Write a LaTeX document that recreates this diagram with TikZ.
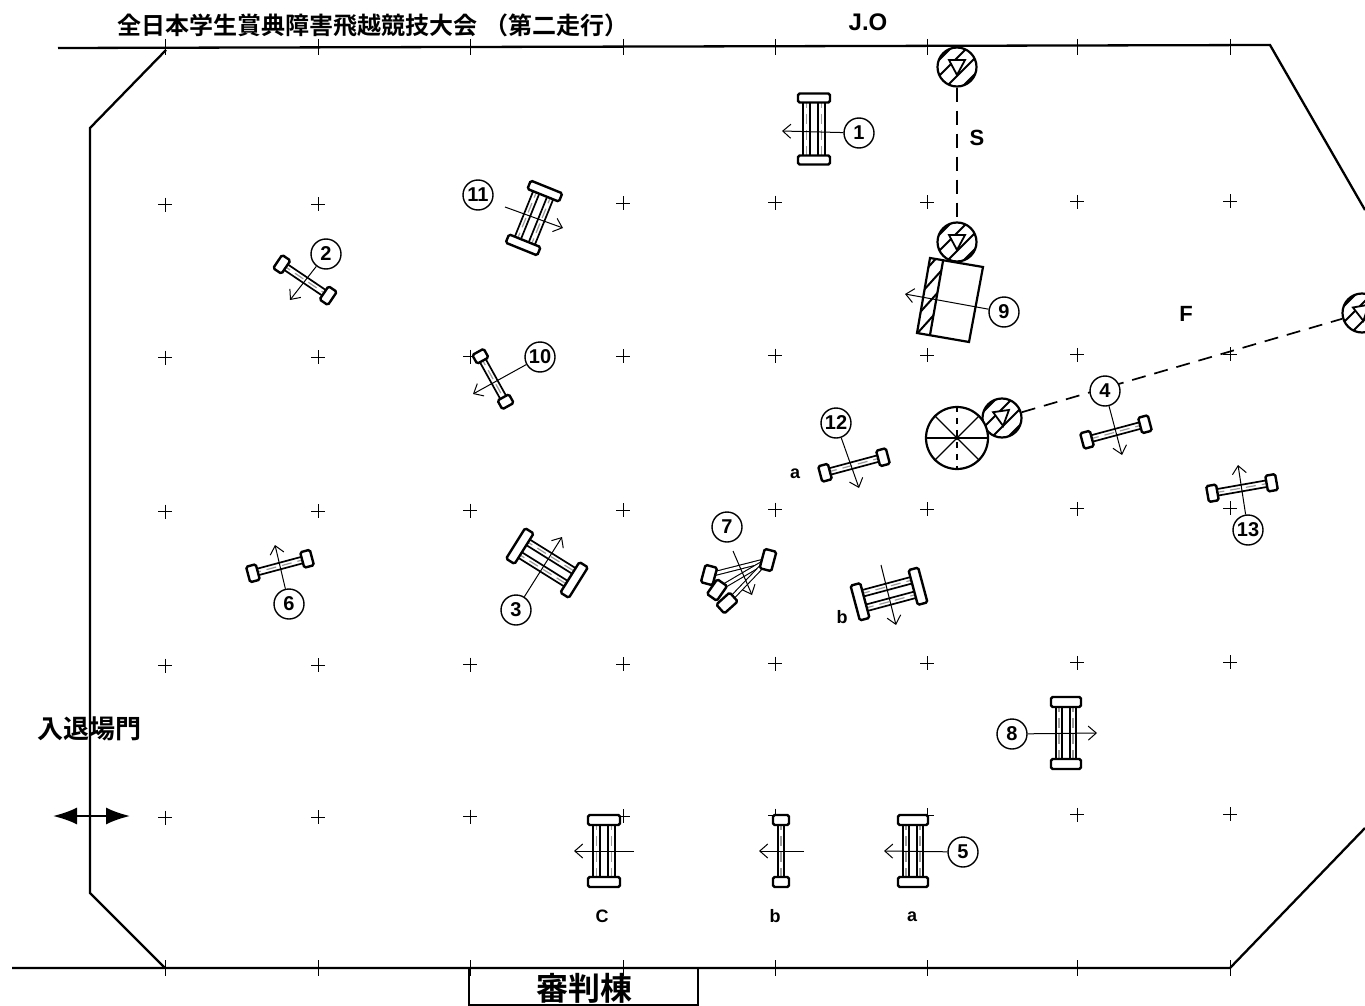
\documentclass[tikz,border=0pt]{standalone}
\usepackage{fontspec}
\setmainfont{Liberation Sans}
\newfontfamily\cjk{Noto Sans CJK JP}[BoldFont={* Bold}]
\usetikzlibrary{arrows.meta}

% x y angle halflength halfwidth halfthick rails
\newcommand{\jump}[7]{
	\begin{scope}[shift={(#1,#2)},rotate=#3]
		\foreach \s in {#7} {
			\draw[rail] (\s-3.3,-#4) rectangle (\s+3.3,#4);
			\draw[railmid] (\s,-#4) -- (\s,#4);
		}
		\draw[block] (-#5,-#4-#6) rectangle (#5,-#4+#6);
		\draw[block] (-#5,#4-#6) rectangle (#5,#4+#6);
	\end{scope}
}
% name x y angle of triangle
\newcommand{\flag}[4]{
	\node[flagring] (#1) at (#2,#3) {};
	\begin{scope}
		\clip (#2,#3) circle (19.5);
		\foreach \d in {-12.5,-4.5,4.5,12.5}
			\draw[hatch] (#2-25+\d,#3+25+\d) -- (#2+25+\d,#3-25+\d);
	\end{scope}
	\begin{scope}[shift={(#2,#3)},rotate=#4]
		\draw[flagtri] (-8,-7) -- (8,-7) -- (0,8) -- cycle;
	\end{scope}
}

\begin{document}
\begin{tikzpicture}[x=0.5pt,y=-0.5pt]
	\tikzstyle{rail} = [draw, line width=0.85pt, fill=white]
	\tikzstyle{railmid} = [draw, line width=0.6pt, dash pattern=on 5 off 3, gray!80]
	\tikzstyle{block} = [draw, line width=1.2pt, fill=white, rounded corners=0.8pt]
	\tikzstyle{num} = [draw, circle, line width=0.7pt, fill=white, minimum size=15pt, inner sep=0, font=\fontsize{10}{10}\selectfont\bfseries]
	\tikzstyle{pull} = [draw, line width=0.5pt, -{Straight Barb[length=4pt,width=7pt]}]
	\tikzstyle{label} = [inner sep=0, font=\fontsize{9}{9}\selectfont\bfseries]
	\tikzstyle{fence} = [draw, line width=1.15pt]
	\tikzstyle{tick} = [draw, line width=0.45pt]
	\tikzstyle{course} = [draw, line width=0.85pt, dash pattern=on 7pt off 4.5pt]
	\tikzstyle{flagring} = [draw, circle, line width=1.1pt, minimum size=19.5pt, inner sep=0, fill=white]
	\tikzstyle{hatch} = [draw, line width=1pt]
	\tikzstyle{flagtri} = [draw, line width=0.9pt, fill=white]
	\tikzstyle{fan} = [draw, double, line width=0.55pt, double distance=1.4pt]
	\tikzstyle{heading} = [inner sep=0, font=\cjk\fontsize{12}{12}\selectfont\bfseries]

	\useasboundingbox (0,0) rectangle (1365,1006);
	\clip (0,0) rectangle (1365,1006);

	% grid
	\foreach \row in {356,510,664,816} {
		\foreach \col in {165,318,470,623,775,927,1077,1230} {
			\draw[tick] (\col-7,\row+2-\col*0.003) -- (\col+7,\row+2-\col*0.003);
			\draw[tick] (\col,\row+2-\col*0.003-7) -- (\col,\row+2-\col*0.003+7);
		}
	}
	\foreach \col in {165,318,623,775,927,1077,1230} {
		\draw[tick] (\col-7,205-\col*0.003) -- (\col+7,205-\col*0.003);
		\draw[tick] (\col,205-\col*0.003-7) -- (\col,205-\col*0.003+7);
	}
	\foreach \col in {165,318,470,623,775,927,1077,1230} {
		\draw[tick] (\col,39) -- (\col,55);
		\draw[tick] (\col,960) -- (\col,976);
	}

	% ring
	\draw[fence] (58,48) -- (1270,45) -- (1365,210);
	\draw[fence] (166,50) -- (90,128) -- (90,893) -- (165,968);
	\draw[fence] (12,968) -- (1230,968) -- (1365,828);
	\node[draw, line width=1pt, minimum width=114.5pt, minimum height=18.5pt, inner sep=0] (judge) at (583.5,986.5) {};
	\node[heading, font=\cjk\fontsize{16}{16}\selectfont\bfseries] (judgetext) at (584,988) {審判棟};

	\node[heading, anchor=west] (title) at (117,25) {全日本学生賞典障害飛越競技大会\hspace{3.5pt}（第二走行）};
	\node[heading, font=\fontsize{12}{12}\selectfont\bfseries] (jo) at (868,22) {J.O};
	\node[heading, font=\cjk\fontsize{13}{13}\selectfont\bfseries] (gate) at (89,729) {入退場門};
	\coordinate (gatel) at (53,816);
	\coordinate (gater) at (130,816);
	\draw[line width=1pt, {Latex[length=12pt,width=8.5pt]}-{Latex[length=12pt,width=8.5pt]}] (gatel) -- (gater);

	% obstacles
	\jump{814}{129}{0}{31}{16}{4.5}{-7.5,7.5}
	\jump{534}{218}{-22}{29}{17}{4.5}{-7.5,7.5}
	\jump{305}{280}{56}{28}{8}{5}{0}
	\jump{493}{379}{29}{26}{6.5}{5}{0}
	\jump{280}{566}{-75}{28}{8}{5}{0}
	\jump{547}{563}{58}{32}{18}{5}{-7.5,7.5}
	\jump{854}{465}{-75}{30}{8}{5}{0}
	\jump{889}{594}{-75}{30}{18}{5}{-7.5,7.5}
	\jump{1116}{432}{-75}{30}{8}{5}{0}
	\jump{1242}{488}{-80}{30}{8}{5}{0}
	\jump{1066}{733}{0}{31}{15}{5}{-7,7}
	\jump{604}{851}{0}{31}{16}{5}{-7.5,7.5}
	\jump{781}{851}{0}{31}{8}{5}{0}
	\jump{913}{851}{0}{31}{15}{5}{-7,7}

	% triple bar 7
	\draw[fan] (768,560) -- (709,575);
	\draw[fan] (768,560) -- (717,590);
	\draw[fan] (768,560) -- (727,603);
	\draw[block, rotate around={-35:(717,590)}] (711,581) rectangle (723,599);
	\draw[block, rotate around={-48:(727,603)}] (721,594) rectangle (733,612);
	\draw[block, rotate around={-15:(709,575)}] (703,566) rectangle (715,584);
	\draw[block, rotate around={-15:(768,560)}] (762,550) rectangle (774,570);

	% start and finish
	\flag{fs1}{957}{67}{0}
	\flag{fs2}{957}{242}{0}
	\flag{ff1}{1002}{418}{8}
	\flag{ff2}{1362}{313}{10}
	\draw[course] (fs1) -- (fs2);
	\draw[course] (ff1) -- (ff2);
	\node[label, font=\fontsize{11}{11}\selectfont\bfseries] (slabel) at (977,138) {S};
	\node[label, font=\fontsize{11}{11}\selectfont\bfseries] (flabel) at (1186,314) {F};

	% wall 9
	\draw[line width=1.1pt, fill=white] (930,258) -- (983,267) -- (969,342) -- (917,333) -- cycle;
	\begin{scope}
		\clip (930,258) -- (943,261) -- (930,335) -- (917,333) -- cycle;
		\foreach \d in {0,18,36,54,72,90}
			\draw[hatch] (905,\d+275) -- (950,\d+225);
	\end{scope}
	\draw[line width=1.1pt] (943,261) -- (930,335);

	% water
	\node[draw, circle, line width=1.1pt, minimum size=31pt, inner sep=0, fill=white] (water) at (957,438) {};
	\foreach \a in {0,45,135,180,225,315}
		\draw[line width=0.55pt] (water.center) -- (water.\a);
	\draw[line width=0.55pt, dashed] (water.90) -- (water.270);
	\fill (water.center) circle (2);

	% pulls and numbers
	\node[num] (n1) at (859,133) {1};
	\node[num] (n2) at (326,254) {2};
	\node[num] (n3) at (516,610) {3};
	\node[num] (n4) at (1105,391) {4};
	\node[num] (n5) at (963,852) {5};
	\node[num] (n6) at (289,604) {6};
	\node[num] (n7) at (727,527) {7};
	\node[num] (n8) at (1012,734) {8};
	\node[num] (n9) at (1004,312) {9};
	\node[num] (n10) at (540,357) {10};
	\node[num] (n11) at (478,195) {11};
	\node[num] (n12) at (836,423) {12};
	\node[num] (n13) at (1248,530) {13};

	\coordinate (tip1) at (782,131);
	\coordinate (tip2) at (290,300);
	\coordinate (tip3) at (562,537);
	\coordinate (tip4) at (1122,455);
	\coordinate (tip5) at (884,851);
	\coordinate (tip6) at (275,545);
	\coordinate (tip8) at (1097,733);
	\coordinate (tip9) at (905,294);
	\coordinate (tip10) at (473,394);
	\coordinate (tip12) at (859,488);
	\coordinate (tip13) at (1238,465);
	\coordinate (tail7) at (733,551);
	\coordinate (tip7) at (752,595);
	\coordinate (tail11) at (505,207);
	\coordinate (tip11) at (563,228);
	\coordinate (tailc) at (634,851);
	\coordinate (tipc) at (574,851);
	\coordinate (tailb) at (804,851);
	\coordinate (tipb) at (759,851);
	\coordinate (tailbb) at (881,565);
	\coordinate (tipbb) at (896,625);

	\foreach \i in {1,2,3,4,5,6,8,9,10,12,13}
		\draw[pull] (n\i) -- (tip\i);
	\draw[pull] (tail7) -- (tip7);
	\draw[pull] (tail11) -- (tip11);
	\draw[pull] (tailc) -- (tipc);
	\draw[pull] (tailb) -- (tipb);
	\draw[pull] (tailbb) -- (tipbb);

	\node[label] (la) at (795,474) {a};
	\node[label] (lb) at (842,617) {b};
	\node[label] (lc2) at (602,916) {C};
	\node[label] (lb2) at (775,916) {b};
	\node[label] (la2) at (912,917) {a};
\end{tikzpicture}
\end{document}
